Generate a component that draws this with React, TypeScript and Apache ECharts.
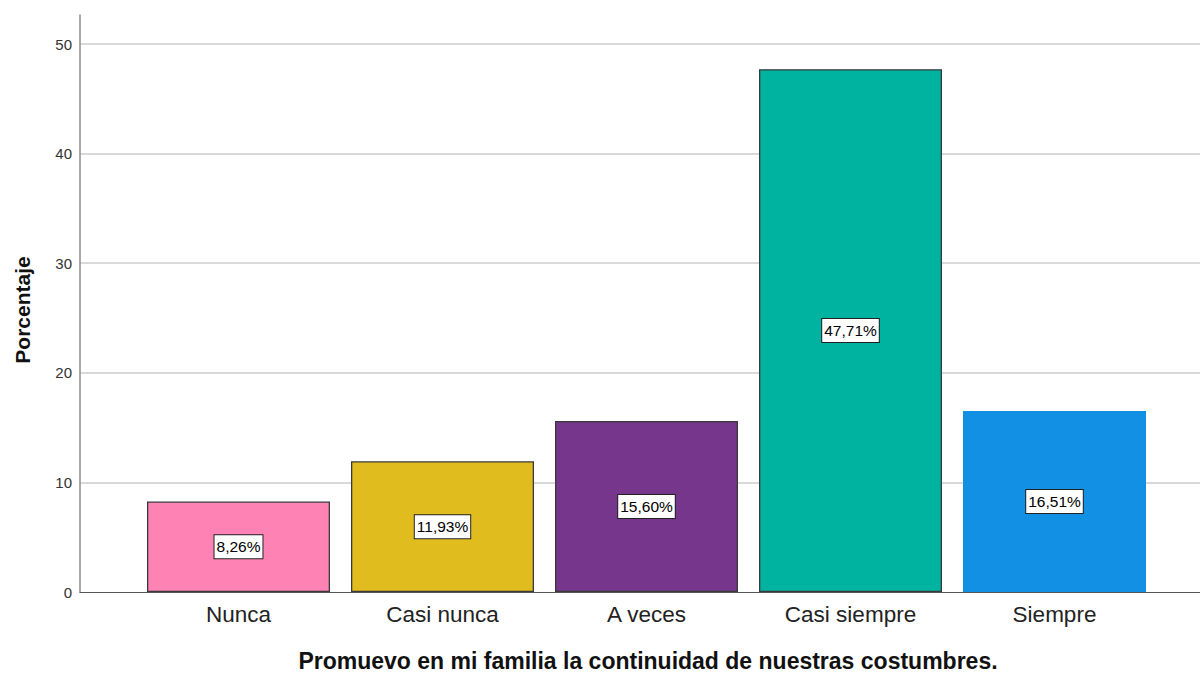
import React, { useEffect, useRef } from "react";
import * as echarts from "echarts";

const categories = ["Nunca", "Casi nunca", "A veces", "Casi siempre", "Siempre"];
const percentages = [8.26, 11.93, 15.6, 47.71, 16.51];
const barColors = ["#FF82B4", "#E0BC1F", "#76368C", "#00B2A0", "#1190E4"];
const barBorders = ["#3a3a3a", "#3a3a3a", "#3a3a3a", "#3a3a3a", "#1190E4"];
const yTicks = [0, 10, 20, 30, 40, 50];
const xTitle = "Promuevo en mi familia la continuidad de nuestras costumbres.";
const yTitle = "Porcentaje";

const FONT = "'Liberation Sans', Arial, sans-serif";

export default function App() {
  const ref = useRef<HTMLDivElement>(null);
  useEffect(() => {
    if (!ref.current) return;
    const chart = echarts.init(ref.current, null, { renderer: "svg" });
    const yMax = 52.65;
    const top = 15;
    const bottom = 81;
    chart.setOption({
      animation: false,
      backgroundColor: "#ffffff",
      grid: [
        { left: 80, right: 0, top, bottom },
        { left: 136.5, right: 43.5, top, bottom },
      ],
      xAxis: [
        {
          type: "value",
          gridIndex: 0,
          min: 0,
          max: 1,
          axisLine: { show: true, onZero: false, lineStyle: { color: "#555555", width: 1 } },
          axisTick: { show: false },
          axisLabel: { show: false },
          splitLine: { show: false },
        },
        {
          type: "category",
          gridIndex: 1,
          data: categories,
          axisLine: { show: false },
          axisTick: { show: false },
          axisLabel: {
            color: "#222222",
            fontSize: 22.5,
            fontFamily: FONT,
            margin: 11,
          },
          splitLine: { show: false },
        },
      ],
      yAxis: [
        {
          type: "value",
          gridIndex: 0,
          min: 0,
          max: yMax,
          interval: 10,
          axisLine: { show: true, lineStyle: { color: "#8c8c8c", width: 1.5 } },
          axisTick: { show: false },
          axisLabel: {
            color: "#333333",
            fontSize: 15,
            fontFamily: FONT,
            margin: 8,
            formatter: (v: number) => (yTicks.includes(Math.round(v * 100) / 100) ? String(v) : ""),
          },
          splitLine: {
            show: true,
            showMinLine: false,
            showMaxLine: false,
            lineStyle: { color: "#cccccc", width: 1.5 },
          },
        },
        {
          type: "value",
          gridIndex: 1,
          min: 0,
          max: yMax,
          show: false,
          splitLine: { show: false },
        },
      ],
      series: [
        {
          type: "bar",
          xAxisIndex: 1,
          yAxisIndex: 1,
          barWidth: 183,
          data: percentages.map((v, i) => ({
            value: v,
            itemStyle: {
              color: barColors[i],
              borderColor: barBorders[i],
              borderWidth: 1.3,
            },
          })),
          label: {
            show: true,
            position: "inside",
            formatter: (p: any) => p.value.toFixed(2).replace(".", ",") + "%",
            color: "#000000",
            fontSize: 15.5,
            fontFamily: FONT,
            backgroundColor: "#ffffff",
            borderColor: "#222222",
            borderWidth: 1,
            padding: [4, 2, 3, 2],
          },
        },
      ],
      graphic: [
        {
          type: "text",
          x: 648,
          y: 661,
          style: {
            text: xTitle,
            font: `bold 23px ${FONT}`,
            fill: "#111111",
            align: "center",
            verticalAlign: "middle",
          },
        },
        {
          type: "text",
          x: 22,
          y: 310,
          rotation: Math.PI / 2,
          style: {
            text: yTitle,
            font: `bold 21px ${FONT}`,
            fill: "#111111",
            align: "center",
            verticalAlign: "middle",
          },
        },
      ],
    });
    return () => chart.dispose();
  }, []);
  return <div ref={ref} style={{ width: 1200, height: 673, position: "absolute", left: 0, top: 0 }} />;
}
